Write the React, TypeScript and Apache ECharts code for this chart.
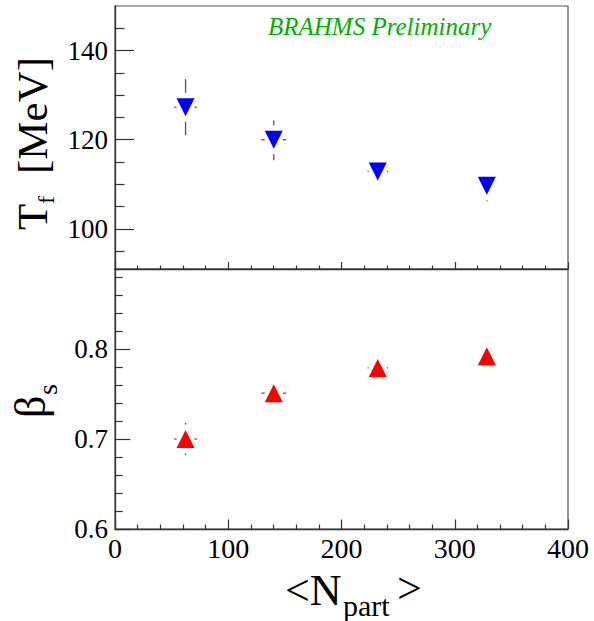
import React, { useEffect, useRef } from "react";
import * as echarts from "echarts";

// ---- data ----
const nPart = [62.3, 140.2, 232.0, 328.3];
const nPartErr = [10, 11, 9, 6];
const tfValues = [127.3, 120.0, 112.9, 109.7];
const tfErrLow = [6.3, 4.6, 1.0, 3.5];
const tfErrHigh = [6.3, 4.3, 1.0, 2.0];
const betaValues = [0.7, 0.751, 0.779, 0.792];
const betaErrLow = [0.018, 0.01, 0.005, 0.005];
const betaErrHigh = [0.018, 0.01, 0.005, 0.005];

const tfTicks = [100, 120, 140];
const tfMinorTicks = [95, 105, 110, 115, 125, 130, 135, 145];
const betaTicks = [0.6, 0.7, 0.8];
const betaMinorTicks = [0.62, 0.64, 0.66, 0.68, 0.72, 0.74, 0.76, 0.78, 0.82, 0.84, 0.86, 0.88];

const FONT = "Liberation Serif";
const AXIS_COLOR = "#333";

function errorRender(params: any, api: any) {
  const x = api.value(0);
  const y = api.value(1);
  const lo = api.value(2);
  const hi = api.value(3);
  const ex = api.value(4);
  const c = api.coord([x, y]);
  const t = api.coord([x, y + hi]);
  const b = api.coord([x, y - lo]);
  const r = api.coord([x + ex, y]);
  const style = { stroke: "#555", lineWidth: 1.3 };
  const gapV = 14.5;
  const gapH = 9;
  const children: any[] = [];
  if (c[1] - t[1] > gapV)
    children.push({ type: "line", shape: { x1: c[0], y1: c[1] - gapV, x2: c[0], y2: t[1] }, style });
  if (b[1] - c[1] > gapV)
    children.push({ type: "line", shape: { x1: c[0], y1: c[1] + gapV, x2: c[0], y2: b[1] }, style });
  const dx = r[0] - c[0];
  if (dx > gapH) {
    children.push({ type: "line", shape: { x1: c[0] + gapH, y1: c[1], x2: c[0] + dx, y2: c[1] }, style });
    children.push({ type: "line", shape: { x1: c[0] - gapH, y1: c[1], x2: c[0] - dx, y2: c[1] }, style });
  }
  return { type: "group", children };
}

function xAxisCfg(grid: number, showLabel: boolean, major: number, minor: number) {
  return {
    gridIndex: grid,
    type: "value",
    min: 0,
    max: 400,
    interval: 100,
    axisLine: { show: true, lineStyle: { color: AXIS_COLOR, width: 1.3 } },
    axisTick: { show: true, inside: true, length: major, lineStyle: { color: AXIS_COLOR, width: 1.2 } },
    minorTick: { show: true, splitNumber: 5, length: minor, lineStyle: { color: AXIS_COLOR, width: 1.2 } },
    axisLabel: { show: showLabel, fontFamily: FONT, fontSize: 28, color: "#000", margin: 5 },
    splitLine: { show: false },
    minorSplitLine: { show: false },
  };
}

function yAxisCfg(grid: number, min: number, max: number, ticks: number[], len: number, labels: boolean) {
  return {
    gridIndex: grid,
    type: "value",
    position: "left",
    min,
    max,
    axisLine: { show: labels, lineStyle: { color: AXIS_COLOR, width: 1.3 } },
    axisTick: { show: true, inside: true, length: len, customValues: ticks, lineStyle: { color: AXIS_COLOR, width: 1.2 } },
    axisLabel: labels
      ? { show: true, customValues: ticks, fontFamily: FONT, fontSize: 27, color: "#000", margin: 7 }
      : { show: false },
    splitLine: { show: false },
  };
}

function rotText(text: string, x: number, y: number, size: number) {
  return {
    type: "text",
    x,
    y,
    rotation: Math.PI / 2,
    style: { text, fontFamily: FONT, fontSize: size, fill: "#000", align: "left", verticalAlign: "middle" },
  };
}

function hText(text: string, x: number, y: number, size: number, extra: any = {}) {
  return {
    type: "text",
    x,
    y,
    style: { text, fontFamily: FONT, fontSize: size, fill: "#000", align: "left", verticalAlign: "middle", ...extra },
  };
}

export default function App() {
  const ref = useRef<HTMLDivElement>(null);
  useEffect(() => {
    document.body.style.margin = "0";
    const chart = echarts.init(ref.current!, null, { renderer: "svg" });
    const tfErrData = nPart.map((x, i) => [x, tfValues[i], tfErrLow[i], tfErrHigh[i], nPartErr[i]]);
    const betaErrData = nPart.map((x, i) => [x, betaValues[i], betaErrLow[i], betaErrHigh[i], nPartErr[i]]);
    chart.setOption({
      animation: false,
      backgroundColor: "#fff",
      textStyle: { fontFamily: FONT },
      grid: [
        { left: 115, top: 6, width: 453, height: 263, show: true, borderColor: "#555", borderWidth: 1.2, backgroundColor: "transparent" },
        { left: 115, top: 269, width: 453, height: 260, show: true, borderColor: "#555", borderWidth: 1.2, backgroundColor: "transparent" },
      ],
      xAxis: [xAxisCfg(0, false, 7, 3.5), xAxisCfg(1, true, 9.5, 4.5)],
      yAxis: [
        yAxisCfg(0, 91, 150, tfTicks, 19, true),
        yAxisCfg(0, 91, 150, tfMinorTicks, 9.5, false),
        yAxisCfg(1, 0.6, 0.889, betaTicks, 15.3, true),
        yAxisCfg(1, 0.6, 0.889, betaMinorTicks, 7.7, false),
      ],
      series: [
        {
          type: "custom",
          xAxisIndex: 0,
          yAxisIndex: 0,
          renderItem: errorRender,
          encode: { x: 0, y: 1 },
          data: tfErrData,
          z: 2,
        },
        {
          type: "custom",
          xAxisIndex: 1,
          yAxisIndex: 2,
          renderItem: errorRender,
          encode: { x: 0, y: 1 },
          data: betaErrData,
          z: 2,
        },
        {
          type: "scatter",
          xAxisIndex: 0,
          yAxisIndex: 0,
          symbol: "triangle",
          symbolRotate: 180,
          symbolSize: 18,
          itemStyle: { color: "#0000ff", opacity: 1 },
          data: nPart.map((x, i) => [x, tfValues[i]]),
          z: 3,
        },
        {
          type: "scatter",
          xAxisIndex: 1,
          yAxisIndex: 2,
          symbol: "triangle",
          symbolSize: 18,
          itemStyle: { color: "#ff0000", opacity: 1 },
          data: nPart.map((x, i) => [x, betaValues[i]]),
          z: 3,
        },
      ],
      graphic: [
        hText("BRAHMS Preliminary", 268, 26.5, 25, { fill: "#00b000", fontStyle: "italic" }),
        rotText("T", 32, 230, 43),
        rotText("f", 46, 204, 24),
        rotText("[MeV]", 32, 174, 43),
        rotText("β", 30, 418, 44),
        rotText("s", 47, 395, 28),
        hText("<N", 285, 590, 44),
        hText("part", 343, 605, 30),
        hText(">", 397, 588, 44),
      ],
    });
    return () => chart.dispose();
  }, []);
  return <div ref={ref} style={{ width: 594, height: 621 }} />;
}
